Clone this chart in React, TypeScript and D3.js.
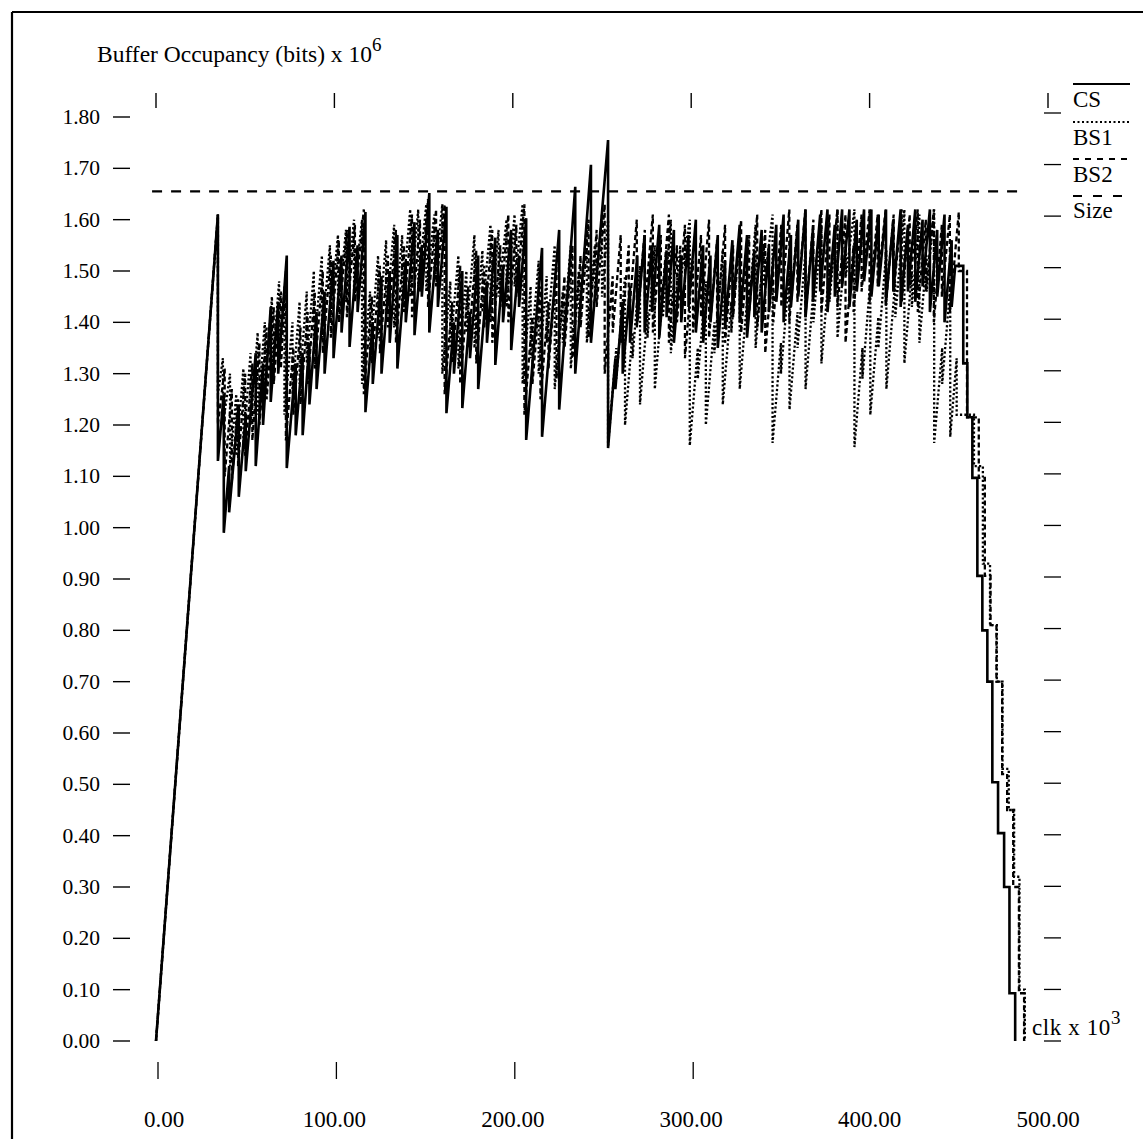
import React from "react";
import * as d3 from "d3";

// ---- axis tick values ----
const yTickValues = [0, 0.1, 0.2, 0.3, 0.4, 0.5, 0.6, 0.7, 0.8, 0.9, 1.0, 1.1, 1.2, 1.3, 1.4, 1.5, 1.6, 1.7, 1.8];
const xTopTickValues = [0, 100, 200, 300, 400, 500];
const xBottomTickValues = [0, 100, 200, 300];
const xLabelValues = [0, 100, 200, 300, 400, 500];

// ---- buffer size line ----
const bufferSize = 1.655;
const sizeSpan = [-2.2, 484];

// ---- series: [time (clk x 10^3), value just before drop, value just after drop] ----
const csTeeth: [number, number, number][] = [
  [34.7, 1.61, 1.13], [38.0, 1.26, 0.99], [41.0, 1.12, 1.03], [46.4, 1.24, 1.06], [50.3, 1.22, 1.11],
  [55.9, 1.34, 1.12], [60.0, 1.32, 1.2], [64.3, 1.43, 1.245], [68.5, 1.44, 1.3], [73.3, 1.53, 1.116],
  [78.3, 1.32, 1.18], [82.2, 1.34, 1.18], [86.0, 1.36, 1.24], [90.0, 1.42, 1.27], [94.5, 1.46, 1.3],
  [99.5, 1.52, 1.33], [104.0, 1.53, 1.38], [108.5, 1.586, 1.352], [113.0, 1.55, 1.42], [117.4, 1.615, 1.225],
  [121.5, 1.4, 1.28], [126.4, 1.49, 1.3], [131.0, 1.5, 1.36], [135.3, 1.57, 1.31], [140.0, 1.52, 1.4],
  [144.9, 1.595, 1.375], [149.0, 1.55, 1.45], [153.2, 1.652, 1.38], [158.0, 1.58, 1.43], [162.8, 1.625, 1.223],
  [167.0, 1.4, 1.3], [171.7, 1.5, 1.233], [176.0, 1.42, 1.33], [180.6, 1.53, 1.27], [185.5, 1.48, 1.36],
  [190.2, 1.565, 1.317], [194.5, 1.51, 1.4], [199.1, 1.58, 1.346], [203.5, 1.53, 1.43], [207.5, 1.603, 1.171],
  [216.4, 1.545, 1.177], [226.0, 1.58, 1.23], [235.0, 1.664, 1.3], [243.8, 1.707, 1.36], [253.4, 1.755, 1.155],
  [257.5, 1.33, 1.27], [261.6, 1.44, 1.3], [265.7, 1.47, 1.36], [269.8, 1.53, 1.4], [273.9, 1.57, 1.38],
  [278.0, 1.55, 1.42], [282.1, 1.59, 1.37], [286.2, 1.54, 1.41], [290.3, 1.58, 1.36], [294.4, 1.53, 1.4],
  [298.5, 1.57, 1.43], [302.6, 1.6, 1.38], [306.7, 1.55, 1.36], [310.8, 1.53, 1.4], [314.9, 1.57, 1.35],
  [319.0, 1.52, 1.39], [323.1, 1.56, 1.42], [327.2, 1.59, 1.4], [331.3, 1.57, 1.37], [335.4, 1.54, 1.41],
  [339.5, 1.58, 1.38], [343.6, 1.55, 1.42], [347.7, 1.59, 1.44], [351.8, 1.61, 1.4], [355.9, 1.57, 1.43],
  [360.0, 1.6, 1.45], [364.1, 1.62, 1.41], [368.2, 1.58, 1.44], [372.3, 1.61, 1.46], [376.4, 1.62, 1.42],
  [380.5, 1.59, 1.45], [384.6, 1.62, 1.47], [388.7, 1.62, 1.43], [392.8, 1.6, 1.46], [396.9, 1.62, 1.48],
  [401.0, 1.62, 1.45], [405.1, 1.61, 1.47], [409.2, 1.62, 1.44], [413.3, 1.6, 1.46], [417.4, 1.62, 1.43],
  [421.5, 1.59, 1.46], [425.6, 1.62, 1.44], [429.7, 1.6, 1.47], [433.8, 1.62, 1.42], [437.9, 1.58, 1.45],
  [442.0, 1.61, 1.4], [446.0, 1.56, 1.43], [448.0, 1.51, 1.51], [452.5, 1.51, 1.32], [454.8, 1.32, 1.215],
  [457.6, 1.215, 1.097], [460.4, 1.097, 0.906], [463.2, 0.906, 0.8], [466.0, 0.8, 0.7], [468.8, 0.7, 0.504],
  [472.0, 0.504, 0.405], [475.4, 0.405, 0.3], [478.4, 0.3, 0.093], [481.6, 0.093, 0.0],
];

const bs1Teeth: [number, number, number][] = [
  [34.7, 1.61, 1.26], [37.5, 1.33, 1.2], [41.5, 1.3, 1.12], [45.0, 1.26, 1.14], [49.0, 1.31, 1.16],
  [53.0, 1.34, 1.2], [57.0, 1.38, 1.22], [61.0, 1.4, 1.27], [65.0, 1.45, 1.3], [69.0, 1.48, 1.33],
  [72.0, 1.47, 1.22], [76.5, 1.4, 1.26], [80.5, 1.44, 1.28], [84.5, 1.46, 1.32], [88.5, 1.5, 1.34],
  [93.0, 1.53, 1.37], [97.5, 1.55, 1.4], [102.0, 1.57, 1.42], [106.5, 1.58, 1.44], [111.0, 1.6, 1.46],
  [115.5, 1.6, 1.28], [120.0, 1.46, 1.34], [124.5, 1.53, 1.37], [129.0, 1.56, 1.41], [133.5, 1.59, 1.39],
  [138.0, 1.57, 1.44], [142.5, 1.62, 1.45], [147.0, 1.62, 1.47], [151.5, 1.63, 1.46], [156.0, 1.61, 1.48],
  [160.5, 1.63, 1.3], [165.0, 1.48, 1.35], [169.5, 1.53, 1.31], [174.0, 1.5, 1.38], [178.5, 1.57, 1.35],
  [183.0, 1.54, 1.42], [187.5, 1.59, 1.4], [192.0, 1.58, 1.45], [196.5, 1.6, 1.43], [201.0, 1.61, 1.47],
  [205.5, 1.63, 1.28], [210.0, 1.47, 1.33], [214.5, 1.52, 1.3], [219.0, 1.49, 1.36], [223.5, 1.55, 1.27],
  [228.0, 1.46, 1.36], [232.5, 1.55, 1.31], [237.0, 1.5, 1.4], [241.5, 1.59, 1.36], [246.0, 1.55, 1.44],
  [250.0, 1.61, 1.45],
  [253.4, 1.6, 1.16], [258.0, 1.35, 1.29], [262.9, 1.49, 1.2], [267.1, 1.38, 1.33], [271.3, 1.51, 1.24],
  [275.5, 1.42, 1.37], [279.6, 1.55, 1.27], [284.1, 1.46, 1.41], [288.6, 1.6, 1.34], [293.9, 1.55, 1.48],
  [299.2, 1.6, 1.16], [303.7, 1.35, 1.29], [308.2, 1.48, 1.2], [313.0, 1.4, 1.34], [317.7, 1.54, 1.24],
  [322.5, 1.44, 1.38], [327.2, 1.58, 1.27], [331.7, 1.46, 1.4], [336.1, 1.59, 1.35], [340.8, 1.55, 1.47],
  [345.6, 1.61, 1.165], [350.3, 1.36, 1.3], [355.1, 1.5, 1.23], [359.6, 1.42, 1.35], [364.1, 1.54, 1.27],
  [368.5, 1.46, 1.4], [373.0, 1.59, 1.32], [377.5, 1.51, 1.44], [382.0, 1.62, 1.37], [386.7, 1.56, 1.49],
  [391.5, 1.62, 1.157], [396.0, 1.35, 1.29], [400.4, 1.48, 1.22], [404.9, 1.41, 1.35], [409.4, 1.54, 1.27],
  [414.4, 1.48, 1.41], [419.5, 1.62, 1.32], [423.7, 1.5, 1.43], [427.9, 1.61, 1.36], [432.0, 1.53, 1.46],
  [436.2, 1.62, 1.165], [440.7, 1.35, 1.28], [445.2, 1.47, 1.177], [448.8, 1.33, 1.22], [458.5, 1.22, 1.12],
  [463.5, 1.12, 0.93], [467.5, 0.93, 0.81], [471.3, 0.81, 0.7], [474.5, 0.7, 0.53], [478.0, 0.53, 0.45],
  [481.0, 0.45, 0.32], [484.0, 0.32, 0.1], [487.0, 0.1, 0.0],
];

const bs2Teeth: [number, number, number][] = [
  [34.7, 1.61, 1.2], [38.5, 1.31, 1.1], [42.5, 1.27, 1.09], [46.0, 1.25, 1.12], [50.0, 1.3, 1.14],
  [54.0, 1.32, 1.17], [58.0, 1.36, 1.2], [62.0, 1.39, 1.25], [66.0, 1.43, 1.28], [70.0, 1.46, 1.31],
  [72.8, 1.5, 1.17], [77.0, 1.35, 1.22], [81.0, 1.39, 1.24], [85.0, 1.42, 1.28], [89.0, 1.46, 1.31],
  [93.5, 1.5, 1.34], [98.0, 1.53, 1.37], [102.5, 1.56, 1.4], [107.0, 1.58, 1.41], [111.5, 1.59, 1.44],
  [116.5, 1.62, 1.26], [121.0, 1.45, 1.32], [125.5, 1.51, 1.34], [130.0, 1.53, 1.39], [134.5, 1.58, 1.36],
  [139.0, 1.55, 1.42], [143.5, 1.61, 1.41], [148.0, 1.6, 1.46], [152.5, 1.64, 1.43], [157.0, 1.62, 1.47],
  [161.8, 1.63, 1.26], [166.0, 1.44, 1.32], [170.5, 1.51, 1.28], [175.0, 1.47, 1.35], [179.5, 1.54, 1.32],
  [184.0, 1.51, 1.39], [188.5, 1.58, 1.36], [193.0, 1.55, 1.43], [197.5, 1.61, 1.4], [202.0, 1.59, 1.45],
  [206.5, 1.63, 1.22], [211.0, 1.41, 1.28], [215.5, 1.47, 1.25], [220.0, 1.44, 1.31], [224.5, 1.51, 1.29],
  [229.0, 1.49, 1.35], [233.5, 1.55, 1.33], [238.0, 1.53, 1.39], [242.5, 1.6, 1.37], [247.0, 1.58, 1.43],
  [251.5, 1.63, 1.3], [256.0, 1.49, 1.38], [260.5, 1.57, 1.36], [265.0, 1.55, 1.41], [269.5, 1.6, 1.39],
  [274.0, 1.58, 1.43], [278.5, 1.61, 1.38], [283.0, 1.57, 1.42], [287.5, 1.61, 1.36], [292.0, 1.55, 1.4],
  [296.5, 1.59, 1.33], [301.0, 1.52, 1.38], [305.5, 1.57, 1.41], [310.0, 1.6, 1.37], [314.5, 1.56, 1.4],
  [319.0, 1.59, 1.36], [323.5, 1.55, 1.41], [328.0, 1.6, 1.38], [332.5, 1.57, 1.42], [337.0, 1.61, 1.39],
  [341.5, 1.58, 1.34], [346.0, 1.53, 1.4], [350.5, 1.59, 1.43], [355.0, 1.62, 1.4], [359.5, 1.59, 1.44],
  [364.0, 1.62, 1.41], [368.5, 1.6, 1.45], [373.0, 1.62, 1.42], [377.5, 1.61, 1.46], [382.0, 1.62, 1.43],
  [386.5, 1.61, 1.36], [391.0, 1.55, 1.42], [395.5, 1.61, 1.46], [400.0, 1.62, 1.44], [404.5, 1.61, 1.47],
  [409.0, 1.62, 1.43], [413.5, 1.61, 1.46], [418.0, 1.62, 1.44], [422.5, 1.61, 1.47], [427.0, 1.62, 1.42],
  [431.5, 1.6, 1.46], [436.0, 1.62, 1.4], [440.5, 1.59, 1.45], [445.0, 1.61, 1.42], [450.0, 1.615, 1.5],
  [454.6, 1.5, 1.215], [461.2, 1.215, 1.097], [464.6, 1.097, 0.906], [467.8, 0.906, 0.81], [471.1, 0.81, 0.7],
  [474.3, 0.7, 0.52], [477.1, 0.52, 0.45], [480.5, 0.45, 0.3], [483.7, 0.3, 0.093], [486.6, 0.093, 0.0],
];

const W = 1143;
const H = 1139;
const FONT = "'Liberation Serif', 'Times New Roman', 'DejaVu Serif', serif";

const x = d3.scaleLinear().domain([0, 500]).range([156, 1048]);
const y = d3.scaleLinear().domain([0, 1.8]).range([1041, 117]);

function seriesPoints(teeth: [number, number, number][]): [number, number][] {
  const pts: [number, number][] = [[0, 0]];
  teeth.forEach(([t, before, after]) => {
    pts.push([t, before]);
    pts.push([t, after]);
  });
  return pts;
}

const line = d3
  .line<[number, number]>()
  .x((d) => x(d[0]))
  .y((d) => y(d[1]));

export default function App() {
  const csPath = line(seriesPoints(csTeeth)) || "";
  const bs1Path = line(seriesPoints(bs1Teeth)) || "";
  const bs2Path = line(seriesPoints(bs2Teeth)) || "";
  const sizePath = line([[sizeSpan[0], bufferSize], [sizeSpan[1], bufferSize]]) || "";

  const fs = 21.5;
  const fx = 23;

  return (
    <svg
      width={W}
      height={H}
      viewBox={`0 0 ${W} ${H}`}
      style={{ position: "absolute", left: 0, top: 0, background: "#fff", display: "block" }}
      fontFamily={FONT}
    >
      <rect x={0} y={0} width={W} height={H} fill="#fff" />
      {/* frame */}
      <line x1={12} y1={12} x2={W} y2={12} stroke="#000" strokeWidth={2.2} />
      <line x1={12} y1={12} x2={12} y2={H} stroke="#000" strokeWidth={2.2} />

      {/* y axis title */}
      <text x={97} y={62} fontSize={23.5} fill="#000">
        Buffer Occupancy (bits) x 10
        <tspan dy={-11} fontSize={19}>6</tspan>
      </text>

      {/* left y ticks and labels */}
      {yTickValues.map((v) => (
        <g key={"yl" + v}>
          <line x1={113} x2={130} y1={y(v)} y2={y(v)} stroke="#000" strokeWidth={1.4} />
          <text x={100} y={y(v) + 7} fontSize={fs} textAnchor="end" fill="#000">
            {v.toFixed(2)}
          </text>
        </g>
      ))}

      {/* right y ticks */}
      {yTickValues.map((v) => (
        <line key={"yr" + v} x1={1044} x2={1061} y1={y(v) - 4 * (v / 1.8)} y2={y(v) - 4 * (v / 1.8)} stroke="#000" strokeWidth={1.3} />
      ))}

      {/* top x ticks */}
      {xTopTickValues.map((v) => (
        <line key={"xt" + v} x1={x(v)} x2={x(v)} y1={93} y2={108} stroke="#000" strokeWidth={1.4} />
      ))}

      {/* bottom x ticks */}
      {xBottomTickValues.map((v) => (
        <line key={"xb" + v} x1={x(v) + 2} x2={x(v) + 2} y1={1062} y2={1079} stroke="#000" strokeWidth={1.3} />
      ))}

      {/* bottom x labels */}
      {xLabelValues.map((v) => (
        <text key={"xl" + v} x={x(v) + (v === 0 ? 8 : 0)} y={1127} fontSize={fx} textAnchor="middle" fill="#000">
          {v.toFixed(2)}
        </text>
      ))}

      {/* x axis title */}
      <text x={1032} y={1035} fontSize={fx} fill="#000" letterSpacing={0.6}>
        clk x 10
        <tspan dy={-11} fontSize={19}>3</tspan>
      </text>

      {/* buffer size */}
      <path d={sizePath} fill="none" stroke="#000" strokeWidth={2.3} strokeDasharray="10,9" />

      {/* series */}
      <path d={bs2Path} fill="none" stroke="#000" strokeWidth={2.3} strokeDasharray="5,3" />
      <path d={bs1Path} fill="none" stroke="#000" strokeWidth={2.3} strokeDasharray="2.2,2.2" />
      <path d={csPath} fill="none" stroke="#000" strokeWidth={2.6} />

      {/* legend */}
      <line x1={1073} x2={1130} y1={84} y2={84} stroke="#000" strokeWidth={2} />
      <text x={1073} y={107} fontSize={fx} fill="#000">CS</text>
      <line x1={1073} x2={1130} y1={122} y2={122} stroke="#000" strokeWidth={2} strokeDasharray="2,2.5" />
      <text x={1073} y={145} fontSize={fx} fill="#000">BS1</text>
      <line x1={1073} x2={1130} y1={159} y2={159} stroke="#000" strokeWidth={2} strokeDasharray="6,6" />
      <text x={1073} y={182} fontSize={fx} fill="#000">BS2</text>
      <line x1={1073} x2={1130} y1={196} y2={196} stroke="#000" strokeWidth={2} strokeDasharray="9,11" />
      <text x={1073} y={218} fontSize={fx} fill="#000">Size</text>
    </svg>
  );
}
